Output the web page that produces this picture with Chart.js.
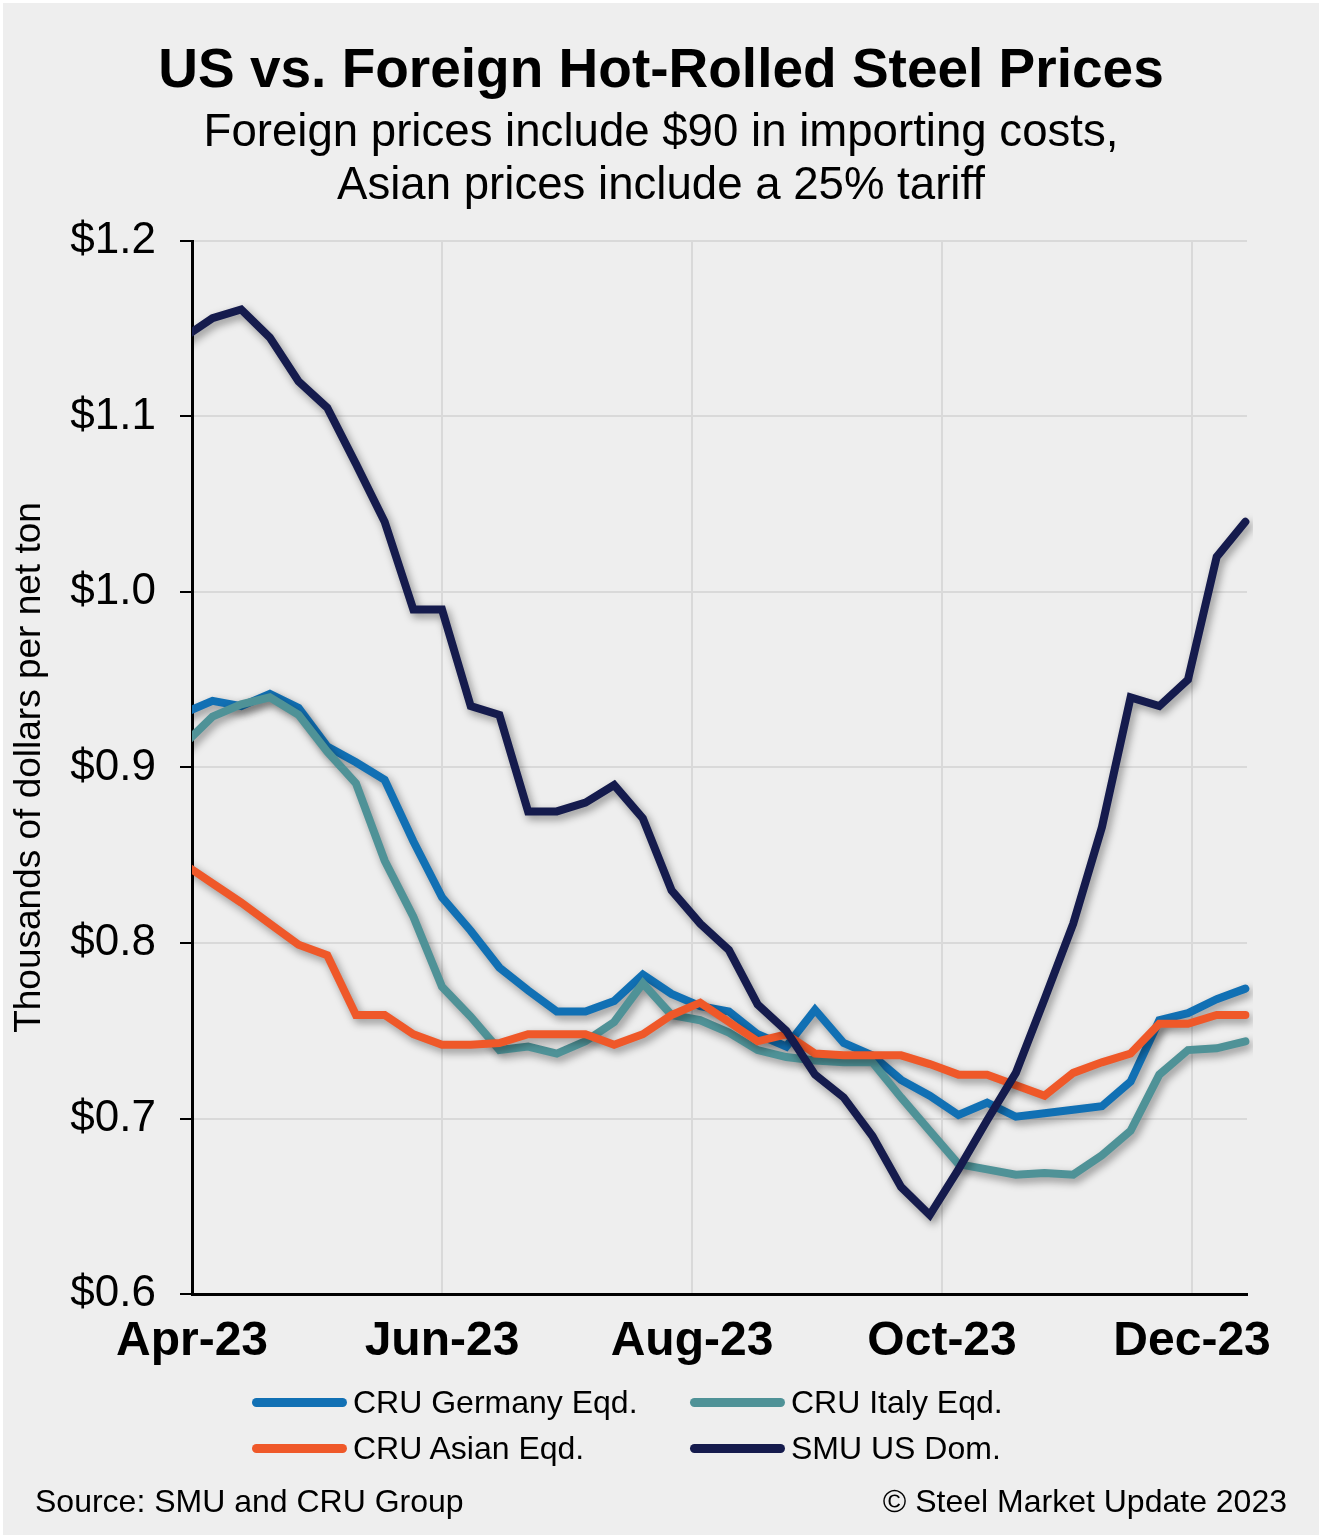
<!DOCTYPE html>
<html>
<head>
<meta charset="utf-8">
<script src="https://cdn.jsdelivr.net/npm/chart.js@4.4.0/dist/chart.umd.min.js"></script>
<style>
  html, body { margin: 0; padding: 0; background: #ffffff; }
  body { width: 1322px; height: 1538px; position: relative; overflow: hidden;
         font-family: 'Liberation Sans', Arial, sans-serif; color: #000; }
  #panel { position: absolute; left: 3px; top: 3px; right: 3px; bottom: 3px; background: #eeeeee; }
  #chart { position: absolute; left: 0; top: 0; }
  .txt { position: absolute; left: 0; width: 1322px; text-align: center; white-space: nowrap; }
  #title { top: 41px; font-size: 55px; font-weight: bold; line-height: 1; }
  #subtitle { top: 104px; font-size: 45.6px; line-height: 53px; }
  #legend .item { position: absolute; height: 40px; display: flex; align-items: center;
                  font-size: 32px; white-space: nowrap; }
  #legend .swatch { width: 95px; height: 9px; border-radius: 4.5px; margin-right: 6px; }
  .note { position: absolute; top: 1485px; font-size: 32px; line-height: 1; white-space: nowrap; }
</style>
</head>
<body>
<div id="panel"></div>
<canvas id="chart" width="1322" height="1538"></canvas>
<div class="txt" id="title">US vs. Foreign Hot-Rolled Steel Prices</div>
<div class="txt" id="subtitle">Foreign prices include $90 in importing costs,<br>Asian prices include a 25% tariff</div>
<div id="legend"></div>
<div class="note" style="left:35px;">Source: SMU and CRU Group</div>
<div class="note" style="right:35px;">© Steel Market Update 2023</div>
<script>
// weekly price dates
const weekDates = ['2023-03-30','2023-04-06','2023-04-13','2023-04-20','2023-04-27','2023-05-04',
  '2023-05-11','2023-05-18','2023-05-25','2023-06-01','2023-06-08','2023-06-15','2023-06-22',
  '2023-06-29','2023-07-06','2023-07-13','2023-07-20','2023-07-27','2023-08-03','2023-08-10',
  '2023-08-17','2023-08-24','2023-08-31','2023-09-07','2023-09-14','2023-09-21','2023-09-28',
  '2023-10-05','2023-10-12','2023-10-19','2023-10-26','2023-11-02','2023-11-09','2023-11-16',
  '2023-11-23','2023-11-30','2023-12-07','2023-12-14'];

// thousands of dollars per net ton
const germany = [0.931, 0.938, 0.935, 0.942, 0.934, 0.912, 0.903, 0.893, 0.858, 0.826, 0.807, 0.786,
  0.773, 0.761, 0.761, 0.767, 0.782, 0.771, 0.764, 0.761, 0.748, 0.741, 0.762, 0.743, 0.736, 0.722,
  0.713, 0.702, 0.709, 0.701, 0.703, 0.705, 0.707, 0.721, 0.756, 0.760, 0.768, 0.774];
const italy = [0.913, 0.929, 0.936, 0.940, 0.930, 0.909, 0.891, 0.847, 0.815, 0.775, 0.758, 0.739,
  0.741, 0.737, 0.744, 0.755, 0.777, 0.759, 0.756, 0.749, 0.739, 0.735, 0.733, 0.732, 0.732, 0.712,
  0.693, 0.674, 0.671, 0.668, 0.669, 0.668, 0.679, 0.693, 0.725, 0.739, 0.740, 0.744];
const asian = [0.845, 0.834, 0.823, 0.811, 0.799, 0.793, 0.759, 0.759, 0.748, 0.742, 0.742, 0.743,
  0.748, 0.748, 0.748, 0.742, 0.748, 0.759, 0.766, 0.755, 0.744, 0.748, 0.737, 0.736, 0.736, 0.736,
  0.731, 0.725, 0.725, 0.719, 0.713, 0.726, 0.732, 0.737, 0.754, 0.754, 0.759, 0.759];
const smu = [1.145, 1.156, 1.161, 1.145, 1.120, 1.105, 1.073, 1.040, 0.990, 0.990, 0.935, 0.930,
  0.875, 0.875, 0.880, 0.890, 0.871, 0.830, 0.811, 0.796, 0.765, 0.750, 0.725, 0.712, 0.690, 0.661,
  0.645, 0.671, 0.699, 0.726, 0.768, 0.811, 0.866, 0.940, 0.935, 0.950, 1.020, 1.040];

const seriesNames = ['CRU Germany Eqd.', 'CRU Italy Eqd.', 'CRU Asian Eqd.', 'SMU US Dom.'];
const seriesColors = ['#1170b4', '#4f9297', '#ef5829', '#151b4d'];

// x tick labels
const monthDates = ['2023-04-01', '2023-06-01', '2023-08-01', '2023-10-01', '2023-12-01'];
const monthLabels = ['Apr-23', 'Jun-23', 'Aug-23', 'Oct-23', 'Dec-23'];
const yTicks = [0.6, 0.7, 0.8, 0.9, 1.0, 1.1, 1.2];

const FONT = "'Liberation Sans', Arial, sans-serif";
const dayOf = d => (Date.parse(d) - Date.parse(monthDates[0])) / 86400000;
const toPoints = vals => weekDates.map((d, i) => ({ x: dayOf(d), y: vals[i] }));

// soft drop shadow under each line
const lineShadow = {
  id: 'lineShadow',
  beforeDatasetDraw(chart) {
    const c = chart.ctx;
    c.save();
    c.shadowColor = 'rgba(0,0,0,0.4)';
    c.shadowBlur = 8;
    c.shadowOffsetX = 3;
    c.shadowOffsetY = 4;
  },
  afterDatasetDraw(chart) { chart.ctx.restore(); }
};

const allSeries = [germany, italy, asian, smu];
const drawOrder = [3, 2, 1, 0]; // SMU on top

const chart = new Chart(document.getElementById('chart'), {
  type: 'line',
  data: {
    datasets: allSeries.map((vals, i) => ({
      label: seriesNames[i],
      data: toPoints(vals),
      borderColor: seriesColors[i],
      backgroundColor: seriesColors[i],
      borderWidth: 8,
      borderCapStyle: 'round',
      pointRadius: 0,
      tension: 0,
      order: drawOrder[i],
      clip: { left: 0, top: false, right: 6, bottom: false }
    }))
  },
  options: {
    responsive: false,
    animation: false,
    events: [],
    layout: { padding: { left: 0, right: 75, top: 241, bottom: 164 } },
    plugins: { legend: { display: false }, tooltip: { enabled: false } },
    scales: {
      x: {
        type: 'linear',
        min: 0,
        max: dayOf(weekDates[weekDates.length - 1]) + 0.4,
        afterBuildTicks: s => { s.ticks = monthDates.map(d => ({ value: dayOf(d) })); },
        afterFit: s => { s.height = 80; },
        ticks: {
          autoSkip: false, maxRotation: 0, padding: 19, color: '#000',
          font: { family: FONT, size: 48, weight: 'bold' },
          callback: (v, i) => monthLabels[i]
        },
        grid: { color: '#d9d9d9', lineWidth: 2, drawTicks: false },
        border: { color: '#000', width: 3 }
      },
      y: {
        min: 0.6,
        max: 1.2,
        afterBuildTicks: s => { s.ticks = yTicks.map(v => ({ value: v })); },
        afterFit: s => { s.width = 192; },
        ticks: {
          padding: 24, color: '#000',
          font: { family: FONT, size: 44 },
          callback: v => '$' + v.toFixed(1)
        },
        grid: { color: '#d9d9d9', lineWidth: 2, tickColor: '#000', tickLength: 12 },
        border: { color: '#000', width: 3 },
        title: {
          display: true, text: 'Thousands of dollars per net ton', color: '#000',
          font: { family: FONT, size: 37 }, padding: { top: 8, bottom: 0 }
        }
      }
    }
  },
  plugins: [lineShadow]
});

// legend, 2 x 2 grid
const legendCols = [252, 690];
const legendRows = [1382, 1428];
const legendSlots = [[0, 0], [1, 0], [0, 1], [1, 1]];
const legendEl = document.getElementById('legend');
chart.data.datasets.forEach((ds, i) => {
  const [c, r] = legendSlots[i];
  const item = document.createElement('div');
  item.className = 'item';
  item.style.left = legendCols[c] + 'px';
  item.style.top = legendRows[r] + 'px';
  item.innerHTML = '<span class="swatch" style="background:' + ds.borderColor + '"></span>' + ds.label;
  legendEl.appendChild(item);
});
</script>
</body>
</html>
